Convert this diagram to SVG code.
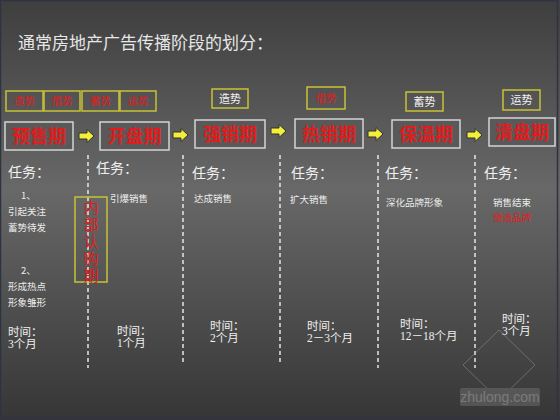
<svg xmlns="http://www.w3.org/2000/svg" width="560" height="420" viewBox="0 0 560 420">
<defs>
<linearGradient id="bg" x1="0" y1="0" x2="0" y2="1">
<stop offset="0" stop-color="#3e3e3e"/>
<stop offset="0.45" stop-color="#686868"/>
<stop offset="1" stop-color="#363636"/>
</linearGradient>
<path id="arr" d="M0,-3 H8 V-6.5 L15,0 L8,6.5 V3 H0 Z"/>
</defs>
<style>
.cjk{font-family:"Noto Sans CJK SC","Noto Sans",sans-serif}
.tag{fill:none;stroke:#c9c235;stroke-width:1.5}
.main{fill:#595959;stroke:#d4d4d4;stroke-width:1.5}
.mt{font-family:"Noto Sans CJK SC",sans-serif;font-size:18px;font-weight:bold;fill:#e01c1c;text-anchor:middle}
.tr{font-family:"Noto Sans CJK SC",sans-serif;font-size:10.5px;fill:#e01c1c;text-anchor:middle}
.tw{font-family:"Noto Sans CJK SC",sans-serif;font-size:11px;fill:#f2f2f2;text-anchor:middle}
.ar{fill:#f2ee3a;stroke:#333;stroke-width:1}
.dash{stroke:#f0f0f0;stroke-width:1.4;stroke-dasharray:4 3}
.rw{font-family:"Noto Sans CJK SC",sans-serif;font-size:14px;fill:#f0f0f0}
.sm{font-family:"Noto Sans CJK SC",sans-serif;font-size:9.5px;fill:#ececec}
.tm{font-family:"Liberation Serif","Noto Sans CJK SC",serif;font-size:11.5px;fill:#f0f0f0}
</style>
<rect width="560" height="420" fill="url(#bg)"/>
<rect x="0.5" y="0.5" width="557" height="417" fill="none" stroke="#2c3444" stroke-width="1.5"/>

<text x="18" y="49" class="cjk" font-size="17" fill="#e6e6e6">通常房地产广告传播阶段的划分：</text>

<g id="connectors">
<use href="#arr" x="79" y="136" class="ar"/>
<use href="#arr" x="173" y="135" class="ar"/>
<use href="#arr" x="271" y="131" class="ar"/>
<use href="#arr" x="368" y="134" class="ar"/>
<use href="#arr" x="467" y="135" class="ar"/>
<line x1="88" y1="155" x2="88" y2="368" class="dash"/>
<line x1="183" y1="155" x2="183" y2="363" class="dash"/>
<line x1="280" y1="155" x2="280" y2="363" class="dash"/>
<line x1="378" y1="155" x2="378" y2="368" class="dash"/>
<line x1="475" y1="155" x2="475" y2="368" class="dash"/>
</g>

<g id="stage1">
<rect x="6" y="91" width="37" height="20" class="tag"/><text x="24.5" y="105" class="tr">造势</text>
<rect x="44" y="91" width="36" height="20" class="tag"/><text x="62" y="105" class="tr">借势</text>
<rect x="82" y="91" width="37" height="20" class="tag"/><text x="100.5" y="105" class="tr">蓄势</text>
<rect x="120" y="91" width="36" height="20" class="tag"/><text x="138" y="105" class="tr">运势</text>
<rect x="5" y="122" width="68" height="28" class="main"/><text x="39" y="143" class="mt">预售期</text>
<text x="8" y="177" class="rw">任务：</text>
<text x="21" y="199" class="sm">1、</text>
<text x="8" y="215" class="sm">引起关注</text>
<text x="8" y="231" class="sm">蓄势待发</text>
<text x="21" y="274" class="sm">2、</text>
<text x="8" y="290" class="sm">形成热点</text>
<text x="8" y="306" class="sm">形象雏形</text>
<text x="8" y="336" class="tm">时间：</text>
<text x="8" y="348" class="tm">3个月</text>
</g>

<g id="inner">
<rect x="75" y="197" width="32" height="85" class="tag"/>
<text x="91" y="200" class="cjk" font-size="15" fill="#e01c1c" style="writing-mode:vertical-rl;letter-spacing:2px">内部认购期</text>
</g>

<g id="stage2">
<rect x="100" y="122" width="69" height="28" class="main"/><text x="134.5" y="143" class="mt">开盘期</text>
<text x="96" y="173" class="rw">任务：</text>
<text x="110" y="202" class="sm">引爆销售</text>
<text x="117" y="335" class="tm">时间：</text>
<text x="117" y="347" class="tm">1个月</text>
</g>

<g id="stage3">
<rect x="212" y="89" width="36" height="19" class="tag"/><text x="230" y="103" class="tw">造势</text>
<rect x="195" y="120" width="70" height="28" class="main"/><text x="230" y="141" class="mt">强销期</text>
<text x="192" y="178" class="rw">任务：</text>
<text x="194" y="202" class="sm">达成销售</text>
<text x="210" y="330" class="tm">时间：</text>
<text x="210" y="342" class="tm">2个月</text>
</g>

<g id="stage4">
<rect x="307" y="87" width="38" height="22" class="tag"/><text x="326" y="102" class="tr">借势</text>
<rect x="295" y="119" width="68" height="29" class="main"/><text x="329" y="141" class="mt">热销期</text>
<text x="291" y="178" class="rw">任务：</text>
<text x="290" y="203" class="sm">扩大销售</text>
<text x="307" y="330" class="tm">时间：</text>
<text x="307" y="342" class="tm">2－3个月</text>
</g>

<g id="stage5">
<rect x="406" y="92" width="37" height="19" class="tag"/><text x="424.5" y="106" class="tw">蓄势</text>
<rect x="392" y="120" width="68" height="28" class="main"/><text x="426" y="141" class="mt">保温期</text>
<text x="385" y="178" class="rw">任务：</text>
<text x="386" y="206" class="sm">深化品牌形象</text>
<text x="400" y="328" class="tm">时间：</text>
<text x="400" y="340" class="tm">12－18个月</text>
</g>

<g id="stage6">
<rect x="503" y="90" width="37" height="20" class="tag"/><text x="521.5" y="104" class="tw">运势</text>
<rect x="489" y="118" width="66" height="28" class="main"/><text x="522" y="139" class="mt">清盘期</text>
<text x="484" y="178" class="rw">任务：</text>
<text x="493" y="206" class="sm">销售结束</text>
<text x="493" y="221" class="sm" style="fill:#e01c1c">塑造品牌</text>
<text x="502" y="323" class="tm">时间：</text>
<text x="502" y="335" class="tm">3个月</text>
</g>

<g id="watermark" opacity="0.35">
<path d="M499,330 L535,365 L499,400 L463,365 Z" fill="none" stroke="#bbb" stroke-width="1"/>
<rect x="460" y="388" width="80" height="18" rx="2" fill="#888"/>
<text x="500" y="402" font-family="Liberation Sans,sans-serif" font-size="14" fill="#eee" text-anchor="middle">zhulong.com</text>
</g>
</svg>
